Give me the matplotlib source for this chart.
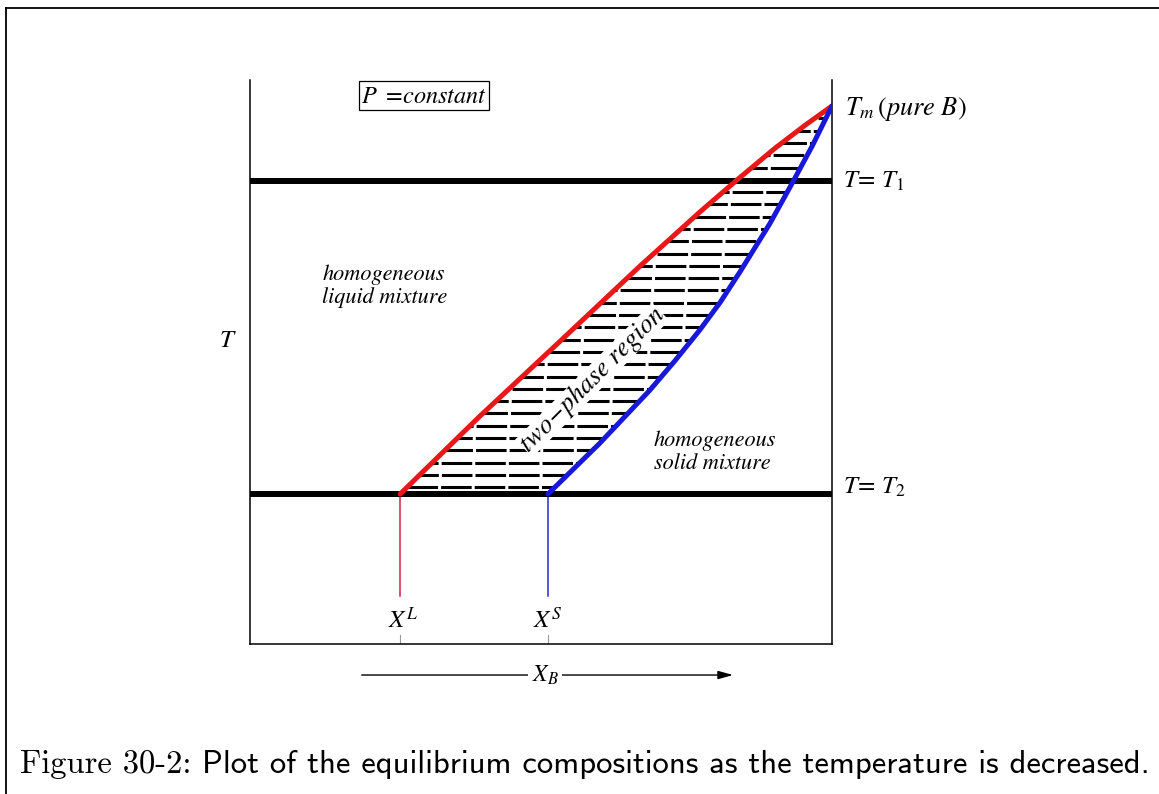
import numpy as np
import matplotlib
matplotlib.use("Agg")
import matplotlib.pyplot as plt
from matplotlib.lines import Line2D

plt.rcParams['mathtext.fontset'] = 'stix'

# ---- data (composition X_B in 0..1, temperature in arbitrary units 0..1) ----
liquidus_x = [0.258, 0.395, 0.533, 0.670, 0.773, 0.837, 0.902, 0.954, 1.0]
liquidus_T = [0.266, 0.404, 0.537, 0.670, 0.766, 0.823, 0.879, 0.920, 0.954]
solidus_x = [0.512, 0.601, 0.687, 0.730, 0.773, 0.808, 0.842, 0.893, 0.931, 0.966, 1.0]
solidus_T = [0.266, 0.356, 0.450, 0.502, 0.557, 0.606, 0.660, 0.745, 0.816, 0.883, 0.954]
T1 = 0.821
T2 = 0.266
xL = 0.258
xS = 0.512
tie_start = 0.278
tie_step = 0.0218
tie_count = 30

RED = '#e81818'
BLUE = '#1818d8'

fig = plt.figure(figsize=(11.59, 7.94), dpi=100)
ax = fig.add_axes([250/1159, 150/794, 582/1159, 564/794])
ax.set_xlim(0, 1)
ax.set_ylim(0, 1)
ax.set_xticks([])
ax.set_yticks([])
ax.spines['top'].set_visible(False)
for s in ('left', 'right', 'bottom'):
    ax.spines[s].set_linewidth(1.1)

# tie lines (two-phase hatching)
levels = tie_start + tie_step * np.arange(tie_count + 1)
for i, lv in enumerate(levels):
    xa = np.interp(lv, liquidus_T, liquidus_x)
    xb = np.interp(lv, solidus_T, solidus_x)
    ax.plot([xa, xb], [lv, lv], color='black', lw=2.2,
            linestyle=((i * 4) % 11, (10, 1.0)), solid_capstyle='butt', zorder=2)

# isotherms
ax.axhline(T1, color='black', lw=4.3, zorder=3)
ax.axhline(T2, color='black', lw=4.3, zorder=3)

# liquidus / solidus
ax.plot(liquidus_x, liquidus_T, color=RED, lw=3.6, zorder=4,
        solid_capstyle='round', solid_joinstyle='round')
ax.plot(solidus_x, solidus_T, color=BLUE, lw=3.6, zorder=4,
        solid_capstyle='round', solid_joinstyle='round')

# composition drop lines
ax.plot([xL, xL], [T2, 0.085], color='#d0204a', lw=1.1, zorder=2)
ax.plot([xS, xS], [T2, 0.085], color='#2a2ad0', lw=1.1, zorder=2)
ax.plot([xL, xL], [0.0, 0.016], color='#999999', lw=0.8)
ax.plot([xS, xS], [0.0, 0.016], color='#999999', lw=0.8)

serif = 'STIXGeneral'

# text labels
ax.text(-0.038, 0.539, r'$T$', fontsize=18, ha='center', va='center')
ax.text(0.299, 0.972, r'$P\ =\!constant$', fontsize=17.5, ha='center', va='center',
        bbox=dict(boxstyle='square,pad=0.1', fc='white', ec='black', lw=0.9))
ax.text(0.124, 0.635, 'homogeneous\nliquid mixture', family=serif, style='italic',
        fontsize=16, ha='left', va='center', linespacing=1.15)
ax.text(0.694, 0.340, 'homogeneous\nsolid mixture', family=serif, style='italic',
        fontsize=16, ha='left', va='center', linespacing=1.15)
ax.text(0.588, 0.468, 'two\u2212phase region', family=serif, style='italic',
        fontsize=19, ha='center', va='center', rotation=45, zorder=5,
        rotation_mode='anchor',
        bbox=dict(boxstyle='square,pad=0.0', fc='white', ec='none'))

ax.text(1.022, 0.938, r'$T_m\,(pure\ B)$', fontsize=19, ha='left', va='baseline')
ax.text(1.019, T1, r'$T\!=\,T_1$', fontsize=18, ha='left', va='center')
ax.text(1.019, T2, r'$T\!=\,T_2$', fontsize=18, ha='left', va='baseline')

ax.text(0.237, 0.028, r'$X^L$', fontsize=18, ha='left', va='baseline')
ax.text(0.486, 0.028, r'$X^S$', fontsize=18, ha='left', va='baseline')

# X_B arrow
ax.annotate('', xy=(0.830, -0.055), xytext=(0.192, -0.055),
            xycoords='data', textcoords='data', annotation_clip=False,
            arrowprops=dict(arrowstyle='-|>,head_length=0.9,head_width=0.25',
                            color='black', lw=1.0, shrinkA=0, shrinkB=0))
ax.text(0.507, -0.055, r'$X_B$', fontsize=17, ha='center', va='center',
        bbox=dict(boxstyle='square,pad=0.15', fc='white', ec='none'), clip_on=False)

# outer frame
fig.add_artist(Line2D([6/1159, 1.0], [1 - 8/794, 1 - 8/794], color='black', lw=1.3,
                      transform=fig.transFigure))
fig.add_artist(Line2D([6/1159, 6/1159], [0.0, 1 - 8/794], color='black', lw=1.3,
                      transform=fig.transFigure))

# caption
t1 = fig.text(20/1159, 1 - 773/794, 'Figure 30-2:', family='cmr10', fontsize=23.5,
              ha='left', va='baseline')
fig.canvas.draw()
bb = t1.get_window_extent()
fig.text((bb.x1 + 11) / fig.bbox.width, 1 - 773/794,
         'Plot of the equilibrium compositions as the temperature is decreased.',
         family='cmss10', fontsize=23.5, ha='left', va='baseline')

fig.savefig('out.png', dpi=100, facecolor='white')
